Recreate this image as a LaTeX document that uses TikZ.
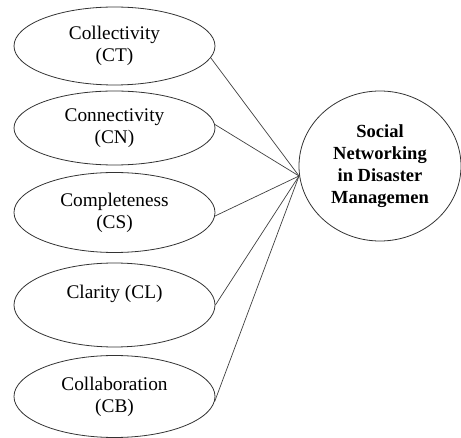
\documentclass[tikz,border=0pt]{standalone}
\usepackage{fontspec}
\setmainfont{Liberation Serif}
\usetikzlibrary{shapes.geometric}
\begin{document}
\begin{tikzpicture}[x=1pt,y=-1pt,
  ell/.style={draw=black!80,line width=0.8pt,ellipse,inner sep=0pt,minimum width=201pt,minimum height=78pt,align=center,font=\fontsize{19.3}{22}\selectfont},
  big/.style={draw=black!80,line width=0.8pt,ellipse,inner sep=0pt,minimum width=162pt,minimum height=150pt,align=center,font=\bfseries\fontsize{18.5}{22}\selectfont},
  conn/.style={draw=black!75,line width=0.7pt}]
\useasboundingbox (0,0) rectangle (461,438);
\node[ell] (ct) at (114.5,46) {Collectivity\\(CT)};
\node[ell,minimum height=74pt] (cn) at (114.5,128) {Connectivity\\(CN)};
\node[ell,minimum height=80pt] (cs) at (114.5,212.5) {Completeness\\(CS)};
\node[ell,minimum height=84pt] (cl) at (114.5,305) {Clarity (CL)\\\phantom{(CL)}};
\node[ell,minimum height=82pt] (cb) at (114.5,396.5) {Collaboration\\(CB)};
\node[big] (sn) at (380,166) {Social\\Networking\\in Disaster\\Managemen};
\coordinate (m) at (299,176);
\draw[conn] (ct.-7) -- (m);
\draw[conn] (cn.2) -- (m);
\draw[conn] (cs.-2) -- (m);
\draw[conn] (cl.east) -- (m);
\draw[conn] (cb.-3) -- (m);
\end{tikzpicture}
\end{document}
